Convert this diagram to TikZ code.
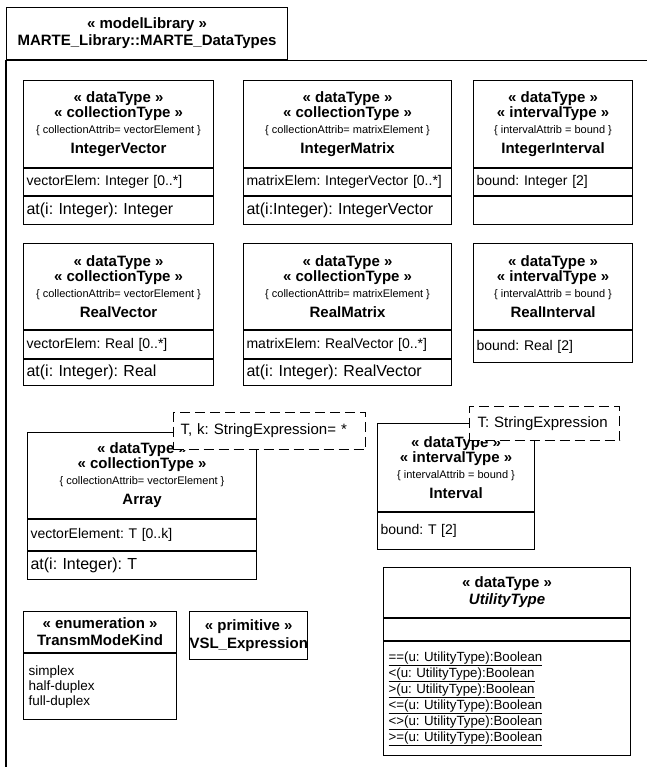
\documentclass[tikz,border=0pt]{standalone}
\usepackage{fontspec}
\setmainfont{Liberation Sans}
\usetikzlibrary{positioning}
\frenchspacing
\newcommand{\hdfont}{\fontsize{15}{15}\selectfont\bfseries}
\newcommand{\cnfont}{\fontsize{11}{12}\selectfont\mdseries}
\newcommand{\atfont}{\fontsize{14}{16}\selectfont}
\newcommand{\opfont}{\fontsize{16}{18}\selectfont}
\newcommand{\tpfont}{\fontsize{15}{17}\selectfont}
\newcommand{\ltfont}{\fontsize{13.5}{15}\selectfont}
\newcommand{\utfont}{\fontsize{13.3}{16}\selectfont}

\begin{document}
\begin{tikzpicture}[
  x=1pt, y=-1pt,
  pkg/.style={draw, line width=1.1pt, fill=white},
  umlhead/.style={draw, line width=1.1pt, fill=white, anchor=north west, inner sep=0pt, align=center, font=\hdfont},
  umlpart/.style={draw, line width=1.1pt, fill=white, anchor=north west, inner xsep=3pt, inner ysep=0pt, align=left},
  tparam/.style={draw, line width=1.1pt, dash pattern=on 10pt off 5pt, fill=white, anchor=north west, inner ysep=0pt, align=left, font=\tpfont}
]
\useasboundingbox (0,0) rectangle (646,767);

% package frame
\node[pkg, anchor=north west, minimum width=281pt, minimum height=52pt, inner sep=0pt, align=center, font=\hdfont] (pkgTab) at (6,7) {« modelLibrary »\\[2pt]MARTE\_Library::MARTE\_DataTypes};
\draw[pkg, fill=none] (pkgTab.south west) rectangle ++(700,760);

% first row
\node[umlhead, minimum width=190pt, minimum height=87pt] (ivHead) at (23,80) {« dataType »\\« collectionType »\\[1pt]{\cnfont \{ collectionAttrib= vectorElement \}}\\[5pt]IntegerVector};
\node[umlpart, text width=184pt, minimum height=27pt, font=\atfont] (ivAttr) at (ivHead.south west) {vectorElem: Integer [0..*]};
\node[umlpart, text width=184pt, minimum height=28pt, font=\opfont] (ivOp) at (ivAttr.south west) {at(i: Integer): Integer};

\node[umlhead, minimum width=208pt, minimum height=87pt] (imHead) at (243,80) {« dataType »\\« collectionType »\\[1pt]{\cnfont \{ collectionAttrib= matrixElement \}}\\[5pt]IntegerMatrix};
\node[umlpart, text width=202pt, minimum height=27pt, font=\atfont] (imAttr) at (imHead.south west) {matrixElem: IntegerVector [0..*]};
\node[umlpart, text width=202pt, minimum height=28pt, font=\opfont] (imOp) at (imAttr.south west) {at(i:Integer): IntegerVector};

\node[umlhead, minimum width=159pt, minimum height=87pt] (iiHead) at (473,80) {« dataType »\\« intervalType »\\[1pt]{\cnfont \{ intervalAttrib = bound \}}\\[5pt]IntegerInterval};
\node[umlpart, text width=153pt, minimum height=27pt, font=\atfont] (iiAttr) at (iiHead.south west) {bound: Integer [2]};
\node[umlpart, text width=153pt, minimum height=28pt, font=\opfont] (iiOp) at (iiAttr.south west) {};

% second row
\node[umlhead, minimum width=190pt, minimum height=86pt] (rvHead) at (23,243) {« dataType »\\« collectionType »\\[1pt]{\cnfont \{ collectionAttrib= vectorElement \}}\\[5pt]RealVector};
\node[umlpart, text width=184pt, minimum height=28pt, font=\atfont] (rvAttr) at (rvHead.south west) {vectorElem: Real [0..*]};
\node[umlpart, text width=184pt, minimum height=26pt, font=\opfont] (rvOp) at (rvAttr.south west) {at(i: Integer): Real};

\node[umlhead, minimum width=208pt, minimum height=86pt] (rmHead) at (243,243) {« dataType »\\« collectionType »\\[1pt]{\cnfont \{ collectionAttrib= matrixElement \}}\\[5pt]RealMatrix};
\node[umlpart, text width=202pt, minimum height=28pt, font=\atfont] (rmAttr) at (rmHead.south west) {matrixElem: RealVector [0..*]};
\node[umlpart, text width=202pt, minimum height=26pt, font=\opfont] (rmOp) at (rmAttr.south west) {at(i: Integer): RealVector};

\node[umlhead, minimum width=159pt, minimum height=86pt] (riHead) at (473,243) {« dataType »\\« intervalType »\\[1pt]{\cnfont \{ intervalAttrib = bound \}}\\[5pt]RealInterval};
\node[umlpart, text width=153pt, minimum height=32pt, font=\atfont] (riAttr) at (riHead.south west) {bound: Real [2]};

% templates
\node[umlhead, minimum width=229pt, minimum height=86pt] (arHead) at (27,432) {« dataType »\\« collectionType »\\[1pt]{\cnfont \{ collectionAttrib= vectorElement \}}\\[5pt]Array};
\node[umlpart, text width=223pt, minimum height=31pt, font=\atfont] (arAttr) at (arHead.south west) {vectorElement: T [0..k]};
\node[umlpart, text width=223pt, minimum height=28pt, font=\opfont] (arOp) at (arAttr.south west) {at(i: Integer): T};
\node[tparam, text width=178pt, inner xsep=7pt, minimum height=37pt] (arParam) at (173,412) {T, k: StringExpression= *};

\node[umlhead, minimum width=157pt, minimum height=88pt] (inHead) at (377,423) {« dataType »\\« intervalType »\\[1pt]{\cnfont \{ intervalAttrib = bound \}}\\[5pt]Interval};
\node[umlpart, text width=151pt, minimum height=37pt, font=\atfont] (inAttr) at (inHead.south west) {bound: T [2]};
\node[tparam, text width=134pt, inner xsep=8pt, minimum height=34pt] (inParam) at (469,406) {T: StringExpression};

% bottom row
\node[umlhead, minimum width=153pt, minimum height=41pt] (tmHead) at (23,611) {« enumeration »\\[2pt]TransmModeKind};
\node[umlpart, text width=143pt, inner xsep=5pt, minimum height=66pt, font=\ltfont] (tmLits) at (tmHead.south west) {simplex\\half-duplex\\full-duplex};

\node[umlhead, minimum width=115pt, minimum height=48pt] (vsHead) at (189,611) {« primitive »\\[3pt]VSL\_Expression};

\node[umlhead, minimum width=247pt, minimum height=50pt] (utHead) at (383,567) {« dataType »\\[2pt]\itshape UtilityType};
\node[umlpart, text width=241pt, minimum height=22pt] (utAttr) at (utHead.south west) {};
\node[umlpart, text width=237pt, inner xsep=5pt, minimum height=114pt, font=\utfont] (utOps) at (utAttr.south west) {\underline{==(u: UtilityType):Boolean}\\\underline{<(u: UtilityType):Boolean}\\\underline{>(u: UtilityType):Boolean}\\\underline{<=(u: UtilityType):Boolean}\\\underline{<>(u: UtilityType):Boolean}\\\underline{>=(u: UtilityType):Boolean}};
\end{tikzpicture}
\end{document}
